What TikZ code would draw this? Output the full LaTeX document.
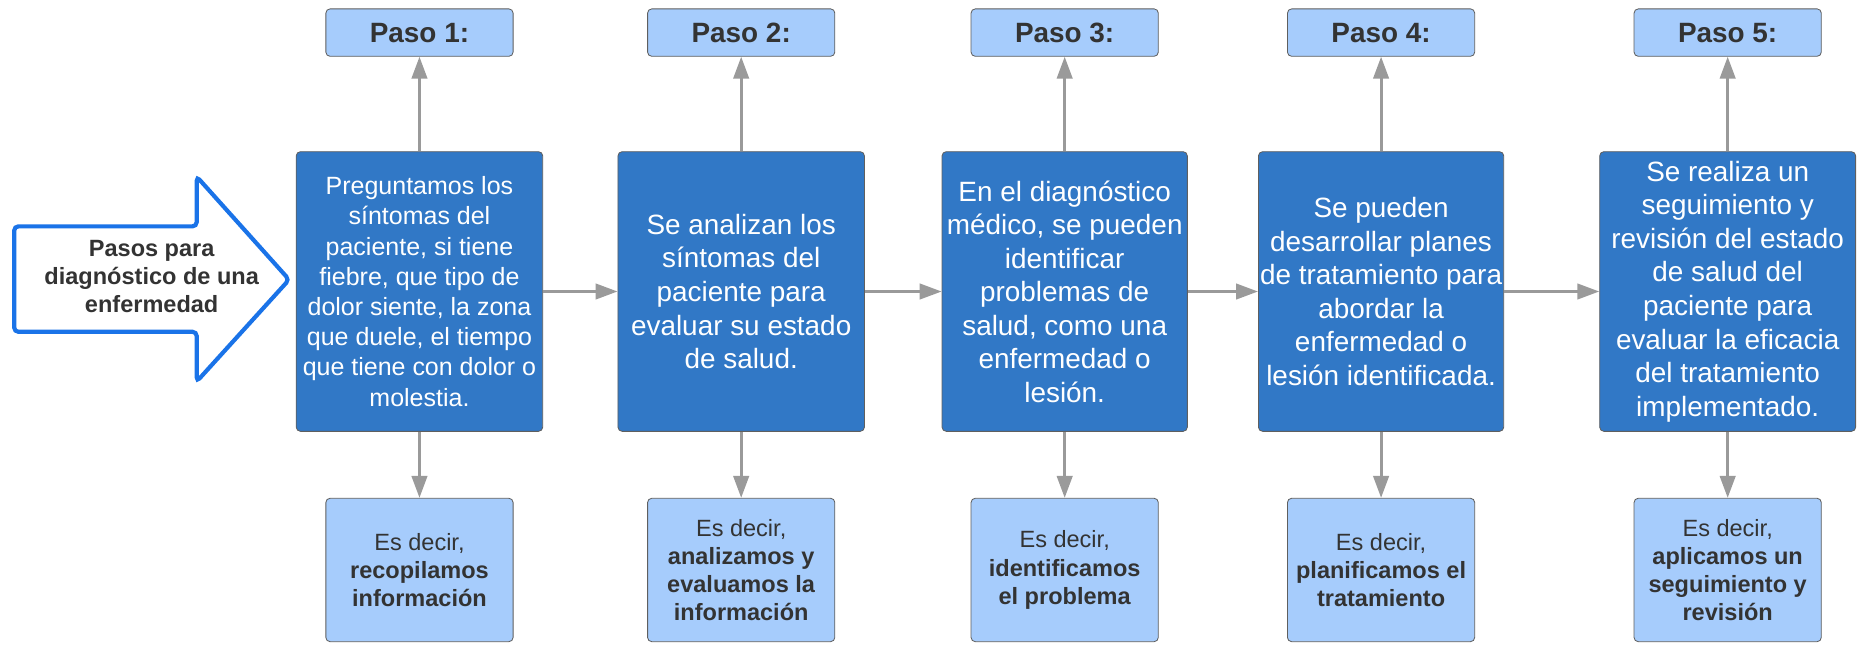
\documentclass[tikz,border=0pt]{standalone}
\usepackage{fontspec}
\setmainfont{Liberation Sans}
\usetikzlibrary{positioning,arrows.meta}
\definecolor{stepblue}{HTML}{3178C6}
\definecolor{notefill}{HTML}{A6CCFC}
\definecolor{linegray}{HTML}{9A9A9A}
\definecolor{edgegray}{HTML}{5F5F5F}
\definecolor{textgray}{HTML}{333333}
\definecolor{bigarrow}{HTML}{1A73E8}

\begin{document}
\begin{tikzpicture}

\def\bw{4.16cm}
\tikzstyle{block} = [
	draw=edgegray, fill=stepblue, rectangle, rounded corners=2pt,
	text=white, align=center, inner sep=0pt,
	minimum height=4.72cm, minimum width=\bw,
	font=\fontsize{13.4}{16.1}\selectfont ];
\tikzstyle{paso} = [
	draw=edgegray, fill=notefill, rectangle, rounded corners=2pt,
	text=textgray, minimum height=0.8cm, minimum width=3.16cm,
	font=\fontsize{13.4}{16}\selectfont\bfseries ];
\tikzstyle{nota} = [paso, minimum height=2.42cm, align=center,
	font=\fontsize{11.3}{13.5}\selectfont ];
\tikzstyle{flecha} = [draw=linegray, line width=1.4pt,
	-{Triangle[length=3.7mm,width=2.6mm]}];
\useasboundingbox (0,0) rectangle (31.36,-10.87);

% big arrow on the left
\draw[bigarrow, line width=2pt, rounded corners=2pt, fill=white]
	(0.24,-3.82) -- (3.32,-3.82) -- (3.32,-2.98) -- (4.88,-4.72)
	-- (3.32,-6.44) -- (3.32,-5.60) -- (0.24,-5.60) -- cycle;
\node[text=textgray, align=center, font=\fontsize{11.3}{13.5}\selectfont\bfseries]
	(titulo) at (2.56,-4.67) {Pasos para\\diagnóstico de una\\enfermedad};

\node[block,font=\fontsize{12}{14.5}\selectfont] (m1) at (7.08,-4.92) {Preguntamos los\\síntomas del\\paciente, si tiene\\fiebre, que tipo de\\dolor siente, la zona\\que duele, el tiempo\\que tiene con dolor o\\molestia.};
\node[block] (m2) at (12.51,-4.92) {Se analizan los\\síntomas del\\paciente para\\evaluar su estado\\de salud.};
\node[block,minimum width=4.14cm] (m3) at (17.97,-4.92) {En el diagnóstico\\médico, se pueden\\identificar\\problemas de\\salud, como una\\enfermedad o\\lesión.};
\node[block,minimum width=4.14cm] (m4) at (23.31,-4.92) {Se pueden\\desarrollar planes\\de tratamiento para\\abordar la\\enfermedad o\\lesión identificada.};
\node[block,minimum width=4.32cm] (m5) at (29.16,-4.92) {Se realiza un\\seguimiento y\\revisión del estado\\de salud del\\paciente para\\evaluar la eficacia\\del tratamiento\\implementado.};

\node[paso,above of=m1,node distance=4.37cm] (p1) {Paso 1:};
\node[paso,above of=m2,node distance=4.37cm] (p2) {Paso 2:};
\node[paso,above of=m3,node distance=4.37cm] (p3) {Paso 3:};
\node[paso,above of=m4,node distance=4.37cm] (p4) {Paso 4:};
\node[paso,above of=m5,node distance=4.37cm] (p5) {Paso 5:};

\node[nota,below of=m1,node distance=4.70cm] (n1) {Es decir,\\\textbf{recopilamos}\\\textbf{información}};
\node[nota,below of=m2,node distance=4.70cm] (n2) {Es decir,\\\textbf{analizamos y}\\\textbf{evaluamos la}\\\textbf{información}};
\node[nota,below of=m3,node distance=4.70cm] (n3) {Es decir,\\\textbf{identificamos}\\\textbf{el problema}};
\node[nota,below of=m4,node distance=4.70cm] (n4) {Es decir,\\\textbf{planificamos el}\\\textbf{tratamiento}};
\node[nota,below of=m5,node distance=4.70cm] (n5) {Es decir,\\\textbf{aplicamos un}\\\textbf{seguimiento y}\\\textbf{revisión}};

\draw[flecha] (m1) -- (p1);
\draw[flecha] (m2) -- (p2);
\draw[flecha] (m3) -- (p3);
\draw[flecha] (m4) -- (p4);
\draw[flecha] (m5) -- (p5);

\draw[flecha] (m1) -- (n1);
\draw[flecha] (m2) -- (n2);
\draw[flecha] (m3) -- (n3);
\draw[flecha] (m4) -- (n4);
\draw[flecha] (m5) -- (n5);

\draw[flecha] (m1) -- (m2);
\draw[flecha] (m2) -- (m3);
\draw[flecha] (m3) -- (m4);
\draw[flecha] (m4) -- (m5);

\end{tikzpicture}
\end{document}
